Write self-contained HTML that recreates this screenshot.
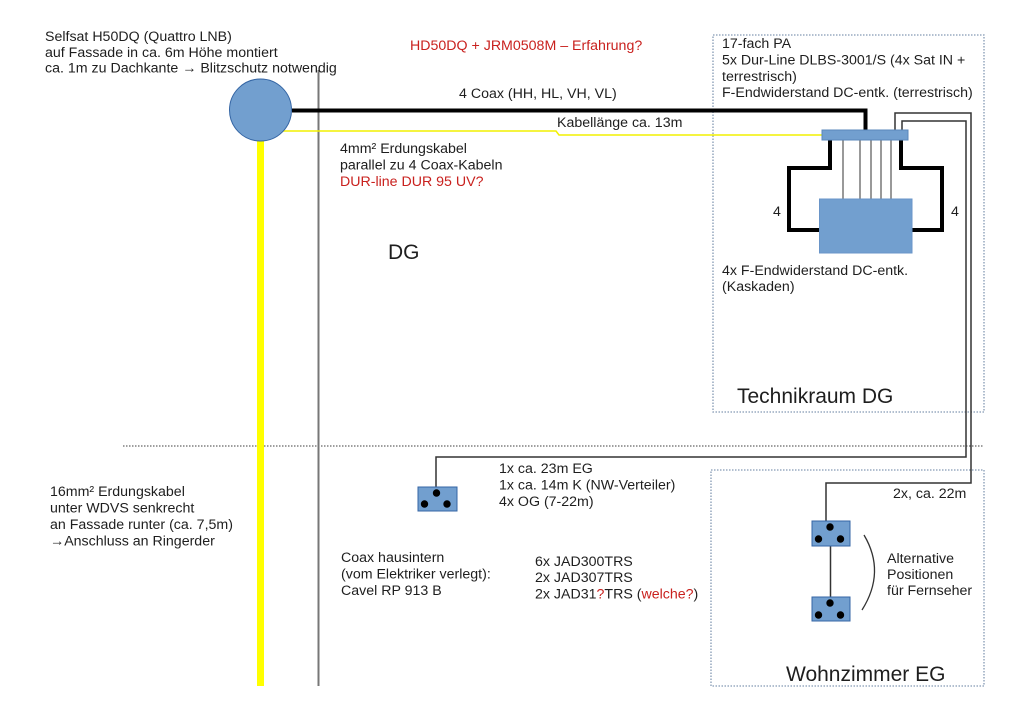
<!DOCTYPE html>
<html>
<head>
<meta charset="utf-8">
<style>
  html,body{margin:0;padding:0;background:#fff;}
  svg{display:block;}
  text{font-family:"Liberation Sans", Arial, sans-serif; font-size:14.2px; fill:#1e1e1e;}
  .big{font-size:21px;}
  .red{fill:#c9211e;}
</style>
</head>
<body>
<svg width="1018" height="720" viewBox="0 0 1018 720" xmlns="http://www.w3.org/2000/svg">
  <rect x="0" y="0" width="1018" height="720" fill="#ffffff"/>

  <!-- dotted boxes -->
  <rect x="713" y="35" width="271" height="377" fill="none" stroke="#8499b3" stroke-width="1.3" stroke-dasharray="1.5,1.5"/>
  <rect x="711" y="470" width="273" height="216" fill="none" stroke="#8499b3" stroke-width="1.3" stroke-dasharray="1.5,1.5"/>
  <!-- dotted separator -->
  <line x1="123" y1="446" x2="984" y2="446" stroke="#666" stroke-width="1.2" stroke-dasharray="1.5,1.5"/>

  <!-- gray vertical line -->
  <line x1="318.5" y1="70" x2="318.5" y2="686" stroke="#777" stroke-width="2"/>

  <!-- thick yellow vertical -->
  <line x1="260.5" y1="140" x2="260.5" y2="686" stroke="#ffff00" stroke-width="7"/>

  <!-- thin yellow ground cable -->
  <polyline points="283,131 556,131 559,135 822,135" fill="none" stroke="#f2f000" stroke-width="1.5"/>

  <!-- black coax -->
  <polyline points="292,110.5 865.5,110.5 865.5,131" fill="none" stroke="#000" stroke-width="4"/>

  <!-- dish -->
  <ellipse cx="260.5" cy="110" rx="31" ry="31" fill="#729fcf" stroke="#3465a4" stroke-width="1"/>

  <!-- gray cables from PA -->
  <polyline points="895,131 895,113 971,113 971,483 826,483 826,521" fill="none" stroke="#333" stroke-width="1.5"/>
  <polyline points="902,131 902,121 966,121 966,457 436,457 436,487" fill="none" stroke="#333" stroke-width="1.5"/>

  <!-- thin lines bar to multiswitch -->
  <g stroke="#333" stroke-width="1">
    <line x1="843" y1="140" x2="843" y2="199"/>
    <line x1="860" y1="140" x2="860" y2="199"/>
    <line x1="871" y1="140" x2="871" y2="199"/>
    <line x1="881" y1="140" x2="881" y2="199"/>
    <line x1="891" y1="140" x2="891" y2="199"/>
  </g>

  <!-- thick connectors -->
  <polyline points="830,139 830,168 789,168 789,230 820,230" fill="none" stroke="#000" stroke-width="4"/>
  <polyline points="901,139 901,168 942,168 942,230 911,230" fill="none" stroke="#000" stroke-width="4"/>

  <!-- PA bar -->
  <rect x="822" y="130" width="86" height="10" fill="#729fcf" stroke="#5a87bb" stroke-width="1"/>
  <!-- multiswitch -->
  <rect x="819.5" y="199" width="92.5" height="54" fill="#729fcf" stroke="#6a95c8" stroke-width="1"/>

  <!-- sockets -->
  <g>
    <rect x="418" y="487" width="39" height="24" fill="#729fcf" stroke="#3465a4" stroke-width="1"/>
    <circle cx="436.5" cy="493" r="3.7" fill="#000"/>
    <circle cx="424.5" cy="504" r="3.7" fill="#000"/>
    <circle cx="447" cy="504" r="3.7" fill="#000"/>
  </g>
  <line x1="830.5" y1="546" x2="830.5" y2="597" stroke="#333" stroke-width="1.5"/>
  <g>
    <rect x="812" y="521" width="38" height="25" fill="#729fcf" stroke="#3465a4" stroke-width="1"/>
    <circle cx="830" cy="527" r="3.7" fill="#000"/>
    <circle cx="818.5" cy="539" r="3.7" fill="#000"/>
    <circle cx="840.5" cy="539" r="3.7" fill="#000"/>
  </g>
  <g>
    <rect x="812" y="597" width="38" height="24" fill="#729fcf" stroke="#3465a4" stroke-width="1"/>
    <circle cx="830" cy="603" r="3.7" fill="#000"/>
    <circle cx="818.5" cy="615" r="3.7" fill="#000"/>
    <circle cx="840.5" cy="615" r="3.7" fill="#000"/>
  </g>

  <!-- bracket arc -->
  <path d="M864,535 Q886,572 862,610" fill="none" stroke="#333" stroke-width="1.3"/>

  <!-- texts -->
  <text x="45" y="41">Selfsat H50DQ (Quattro LNB)</text>
  <text x="45" y="57">auf Fassade in ca. 6m Höhe montiert</text>
  <text x="45" y="72.5">ca. 1m zu Dachkante → Blitzschutz notwendig</text>

  <text x="410" y="50" class="red">HD50DQ + JRM0508M – Erfahrung?</text>

  <text x="459" y="98">4 Coax (HH, HL, VH, VL)</text>
  <text x="557" y="127">Kabellänge ca. 13m</text>

  <text x="340" y="153">4mm² Erdungskabel</text>
  <text x="340" y="169.5">parallel zu 4 Coax-Kabeln</text>
  <text x="340" y="186" class="red">DUR-line DUR 95 UV?</text>

  <text x="388" y="259" class="big">DG</text>

  <text x="722" y="48">17-fach PA</text>
  <text x="722" y="64.5">5x Dur-Line DLBS-3001/S (4x Sat IN +</text>
  <text x="722" y="81">terrestrisch)</text>
  <text x="722" y="97">F-Endwiderstand DC-entk. (terrestrisch)</text>

  <text x="773" y="216">4</text>
  <text x="951" y="216">4</text>

  <text x="722" y="275">4x F-Endwiderstand DC-entk.</text>
  <text x="722" y="291">(Kaskaden)</text>

  <text x="737" y="403" class="big">Technikraum DG</text>

  <text x="499" y="473">1x ca. 23m EG</text>
  <text x="499" y="489.5">1x ca. 14m K (NW-Verteiler)</text>
  <text x="499" y="506">4x OG (7-22m)</text>

  <text x="893" y="498">2x, ca. 22m</text>

  <text x="50" y="496">16mm² Erdungskabel</text>
  <text x="50" y="512.5">unter WDVS senkrecht</text>
  <text x="50" y="529">an Fassade runter (ca. 7,5m)</text>
  <text x="50" y="545.5">→Anschluss an Ringerder</text>

  <text x="341" y="562">Coax hausintern</text>
  <text x="341" y="578.5">(vom Elektriker verlegt):</text>
  <text x="341" y="595">Cavel RP 913 B</text>

  <text x="535" y="566">6x JAD300TRS</text>
  <text x="535" y="582">2x JAD307TRS</text>
  <text x="535" y="598.5">2x JAD31<tspan class="red">?</tspan>TRS (<tspan class="red">welche?</tspan>)</text>

  <text x="887" y="563">Alternative</text>
  <text x="887" y="579">Positionen</text>
  <text x="887" y="595">für Fernseher</text>

  <text x="786" y="681" class="big">Wohnzimmer EG</text>
</svg>
</body>
</html>
